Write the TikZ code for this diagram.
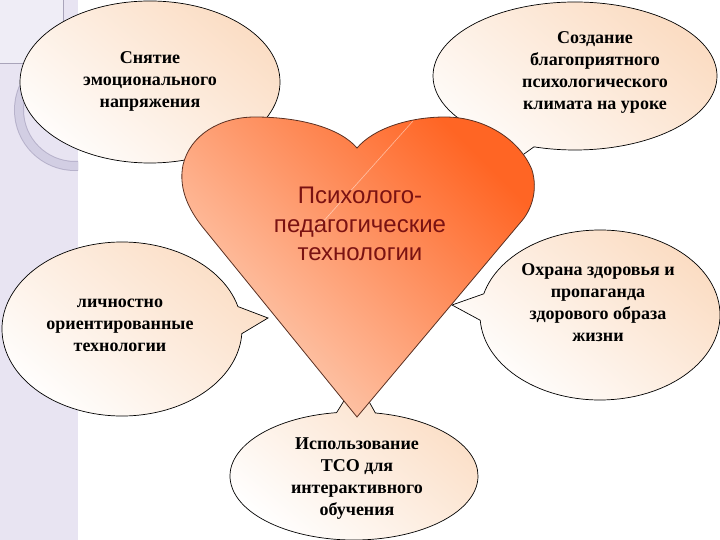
\documentclass[tikz,border=0pt]{standalone}
\usepackage{fontspec}
\setmainfont{Liberation Serif}
\newfontfamily\heartfont{Liberation Sans}
\usetikzlibrary{shapes.callouts}
\definecolor{stripecol}{HTML}{E8E4F2}
\definecolor{boxcol}{HTML}{EFEDF6}
\definecolor{boxedge}{HTML}{A9A4BA}
\definecolor{ringcol}{HTML}{D2CEE3}
\definecolor{ringedge}{HTML}{B7B2CB}
\definecolor{peach}{HTML}{FBDDC4}
\definecolor{heartlight}{HTML}{FDD3BC}
\definecolor{heartdark}{HTML}{FF6524}
\definecolor{heartedge}{HTML}{5A3022}
\definecolor{hearttext}{HTML}{7A1212}
\tikzset{
  bubble/.style={ellipse callout, draw=black, line width=0.7pt, inner sep=0pt,
    top color=peach, bottom color=white, shading angle=-40,
    callout pointer arc=18},
  bubbletext/.style={align=center, font=\bfseries\fontsize{18}{22}\selectfont, text=black, inner sep=0pt},
  hearttxt/.style={align=center, font=\heartfont\fontsize{24}{28.5}\selectfont, text=hearttext, inner sep=0pt}
}
\begin{document}
\begin{tikzpicture}[x=1pt,y=-1pt]
\useasboundingbox (0,0) rectangle (720,540);
\clip (0,0) rectangle (720,540);
% background stripe
\fill[stripecol] (0,0) rectangle (78,540);
\begin{scope}
  \clip (0,0) rectangle (78,540);
  \draw[ringedge, line width=10pt] (75,110) circle[radius=56];
  \draw[ringcol, line width=8pt] (75,110) circle[radius=56];
\end{scope}
\fill[boxcol] (0,0) rectangle (63,63);
\draw[boxedge, line width=0.8pt] (63,0) -- (63,63) -- (0,63);
% callouts
\node[bubble, minimum width=260pt, minimum height=162pt, callout absolute pointer={(290,190)}] (c1) at (150,82) {};
\node[bubble, minimum width=284pt, minimum height=148pt, callout absolute pointer={(460,200)}] (c2) at (575,76) {};
\node[bubble, minimum width=240pt, minimum height=174pt, callout absolute pointer={(268,318)}] (c3) at (122,329) {};
\node[bubble, minimum width=240pt, minimum height=170pt, callout absolute pointer={(452,305)}] (c4) at (600,315) {};
\node[bubble, minimum width=248pt, minimum height=128pt, callout absolute pointer={(357,380)}] (c5) at (354,476) {};
% heart
\path[draw=heartedge, line width=0.8pt, top color=heartdark, bottom color=heartlight, shading angle=-45]
  (357,417) -- (205,230)
  .. controls (190,212) and (178,190) .. (183,165)
  .. controls (190,135) and (220,117) .. (255,117)
  .. controls (300,117) and (340,128) .. (357,148)
  .. controls (374,128) and (410,117) .. (445,117)
  .. controls (485,117) and (520,140) .. (532,170)
  .. controls (538,190) and (532,210) .. (520,223)
  -- cycle;
\draw[white, opacity=0.5, line width=0.6pt] (413,121) -- (313,233);
\node[hearttxt] (h) at (360,224) {Психолого-\\педагогические\\технологии};
% texts
\node[bubbletext] (t1) at (150,81) {Снятие\\эмоционального\\напряжения};
\node[bubbletext] (t2) at (595,72) {Создание\\благоприятного\\психологического\\климата на уроке};
\node[bubbletext] (t3) at (120,325) {личностно\\ориентированные\\технологии};
\node[bubbletext] (t4) at (598,303) {Охрана здоровья и\\пропаганда\\здорового образа\\жизни};
\node[bubbletext] (t5) at (357,479) {Использование\\ТСО для\\интерактивного\\обучения};
\end{tikzpicture}
\end{document}
